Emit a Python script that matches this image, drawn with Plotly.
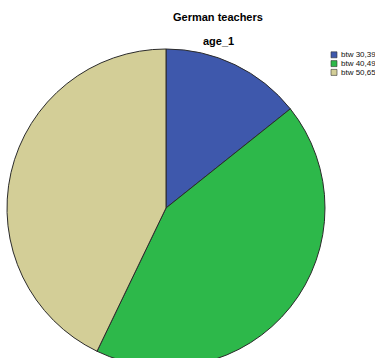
import plotly.graph_objects as go

# Age groups of German teachers (counts)
categories = ["btw 30,39", "btw 40,49", "btw 50,65"]
counts = [1, 3, 3]
colors = ["#3e58ac", "#2db84a", "#d3ce97"]

W, H = 375, 370

fig = go.Figure(
    go.Pie(
        labels=categories,
        values=counts,
        sort=False,
        direction="clockwise",
        rotation=0,
        textinfo="none",
        hoverinfo="label+value+percent",
        marker=dict(colors=colors, line=dict(color="#2b2b2b", width=1)),
        domain=dict(x=[7 / W, 325 / W], y=[1 - 367 / H, 1 - 49 / H]),
        showlegend=False,
    )
)

# Compact key in the top-right corner
shapes, annotations = [], []
row_top, row_step, box = 51.8, 8.8, 6
for i, (name, col) in enumerate(zip(categories, colors)):
    y0 = row_top + i * row_step
    shapes.append(dict(
        type="rect", xref="paper", yref="paper",
        x0=331 / W, x1=(331 + box) / W,
        y0=1 - (y0 + box) / H, y1=1 - y0 / H,
        fillcolor=col, line=dict(color="#333", width=0.6),
    ))
    annotations.append(dict(
        text=name, x=338.5 / W, y=1 - (y0 + box / 2) / H,
        xref="paper", yref="paper", xanchor="left", yanchor="middle",
        showarrow=False, font=dict(size=8, color="#111"),
    ))

annotations += [
    dict(text="<b>German teachers</b>", x=218 / W, y=1 - 17 / H,
         xref="paper", yref="paper", xanchor="center", yanchor="middle",
         showarrow=False, font=dict(size=11)),
    dict(text="<b>age_1</b>", x=218 / W, y=1 - 41 / H,
         xref="paper", yref="paper", xanchor="center", yanchor="middle",
         showarrow=False, font=dict(size=11)),
]

fig.update_layout(
    width=W,
    height=H,
    margin=dict(l=0, r=0, t=0, b=0),
    paper_bgcolor="white",
    plot_bgcolor="white",
    font=dict(family="Liberation Sans, Arial, sans-serif", color="#000"),
    showlegend=False,
    shapes=shapes,
    annotations=annotations,
)

fig.write_html(
    "out.html",
    post_script="document.body.style.margin='0';document.body.style.overflow='hidden';",
)
